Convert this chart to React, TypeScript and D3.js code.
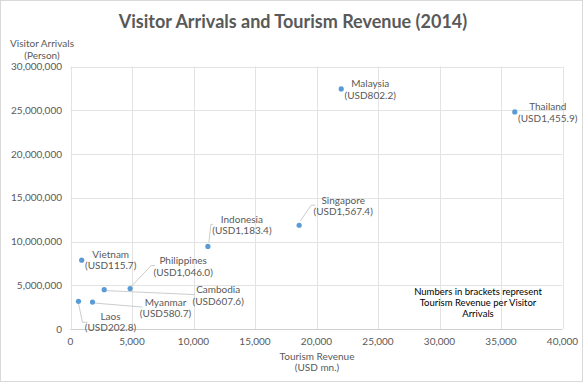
import React from "react";
import * as d3 from "d3";

const countries = ["Vietnam", "Laos", "Myanmar", "Cambodia", "Philippines", "Indonesia", "Singapore", "Malaysia", "Thailand"];
const revenue = [910, 650, 1790, 2740, 4850, 11170, 18590, 22010, 36120];
const arrivals = [7870000, 3160000, 3080000, 4500000, 4620000, 9440000, 11860000, 27440000, 24810000];
const perVisitor = ["USD115.7", "USD202.8", "USD580.7", "USD607.6", "USD1,046.0", "USD1,183.4", "USD1,567.4", "USD802.2", "USD1,455.9"];
// label offsets (dx, dy) relative to point, and optional leader
const labelDx = [29, 32, 73, 114, 53, 34, 44, 29, 33];
const labelDy = [-6, 15, 0, 0, -28, -27, -25, -5, -5];
const leaders: (number[][] | null)[] = [
  null,
  [[0, 2], [4, 21], [9, 21]],
  [[2, 1], [50, 5]],
  [[2, 1], [91, 5]],
  [[1, -2], [21, -23], [25, -23]],
  [[1, -4], [3, -22], [5, -22]],
  [[1, -4], [12, -20], [16, -20]],
  null,
  null,
];
const xTicks = [0, 5000, 10000, 15000, 20000, 25000, 30000, 35000, 40000];
const yTicks = [0, 5000000, 10000000, 15000000, 20000000, 25000000, 30000000];
const noteLines = ["Numbers in brackets represent", "Tourism Revenue per Visitor", "Arrivals"];

export default function App() {
  const W = 585, H = 383;
  const x = d3.scaleLinear().domain([0, 40000]).range([70.5, 562.5]);
  const y = d3.scaleLinear().domain([0, 30000000]).range([329, 66.5]);
  const fmt = d3.format(",");
  const font = "Lato, 'Open Sans', sans-serif";
  const txt = "#595959";
  return (
    <div style={{ position: "fixed", left: 0, top: 0 }}>
      <svg width={W} height={H} style={{ display: "block" }} fontFamily={font}>
        <rect x={0} y={0} width={W} height={H} fill="#fff" />
        <rect x={0.5} y={0.5} width={582} height={381} fill="none" stroke="#d9d9d9" />
        <text x={293} y={28} textAnchor="middle" fontSize={18} fontWeight="bold" fill={txt}>
          Visitor Arrivals and Tourism Revenue (2014)
        </text>
        {yTicks.map((t) => (
          <g key={"y" + t}>
            {t > 0 && <line x1={x(0)} x2={x(40000)} y1={Math.round(y(t)) + 0.5} y2={Math.round(y(t)) + 0.5} stroke="#e3e3e3" />}
            <text x={62} y={y(t) + 3.5} textAnchor="end" fontSize={10} fill={txt}>{fmt(t)}</text>
          </g>
        ))}
        {xTicks.map((t) => (
          <g key={"x" + t}>
            <line x1={Math.round(x(t)) + 0.5} x2={Math.round(x(t)) + 0.5} y1={y(30000000)} y2={y(0)} stroke="#e3e3e3" />
            <text x={x(t)} y={345} textAnchor="middle" fontSize={10} fill={txt}>{fmt(t)}</text>
          </g>
        ))}
        <line x1={x(0)} x2={x(40000)} y1={y(0) + 0.5} y2={y(0) + 0.5} stroke="#d0d0d0" />
        <text x={42} y={47} textAnchor="middle" fontSize={10} fill={txt}>Visitor Arrivals</text>
        <text x={42} y={58.5} textAnchor="middle" fontSize={10} fill={txt}>(Person)</text>
        <text x={317} y={360} textAnchor="middle" fontSize={10} fill={txt}>Tourism Revenue</text>
        <text x={317} y={371} textAnchor="middle" fontSize={10} fill={txt}>(USD mn.)</text>
        {countries.map((c, i) => {
          const px = x(revenue[i]);
          const py = y(arrivals[i]);
          const lead = leaders[i];
          return (
            <g key={c}>
              {lead && (
                <polyline
                  points={lead.map((p) => `${px + p[0]},${py + p[1]}`).join(" ")}
                  fill="none"
                  stroke="#bfbfbf"
                  strokeWidth={0.8}
                />
              )}
              <circle cx={px} cy={py} r={2.6} fill="#5b9bd5" />
              <text x={px + labelDx[i]} y={py + labelDy[i] + 3.5} textAnchor="middle" fontSize={10} fill={txt}>{c}</text>
              <text x={px + labelDx[i]} y={py + labelDy[i] + 15} textAnchor="middle" fontSize={10} fill={txt}>({perVisitor[i]})</text>
            </g>
          );
        })}
        {noteLines.map((l, i) => (
          <text key={l} x={478} y={295 + i * 11} textAnchor="middle" fontSize={9.5} fill="#000">{l}</text>
        ))}
      </svg>
    </div>
  );
}
